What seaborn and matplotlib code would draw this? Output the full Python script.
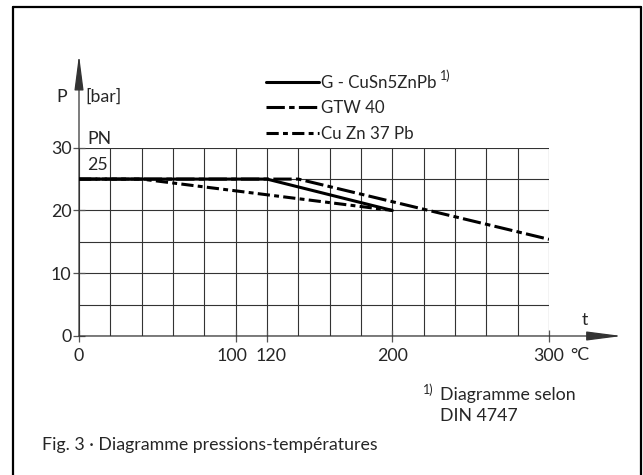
import pandas as pd
import matplotlib
matplotlib.use("Agg")
import matplotlib.pyplot as plt
import matplotlib.transforms as mtransforms
from matplotlib.lines import Line2D
import seaborn as sns

# Pression admissible (bar) en fonction de la température (°C)
temps_cusn = [0, 120, 200]
press_cusn = [25, 25, 20]
temps_gtw = [0, 140, 300]
press_gtw = [25, 25, 15.4]
temps_cuzn = [0, 40, 200]
press_cuzn = [25, 25, 20]

alloys = ["G - CuSn5ZnPb", "GTW 40", "Cu Zn 37 Pb"]
x_ticks = [0, 100, 120, 200, 300]
y_ticks = [0, 10, 20, 30]

sns.set_theme(style="white")
plt.rcParams["font.family"] = ["Lato", "DejaVu Sans"]
FS = 12.8
plt.rcParams["font.size"] = FS

W, H = 643, 475


def fx(px):
    return px / W


def fy(py):
    return 1 - py / H


rows = []
for name, ts, ps in zip(alloys, [temps_cusn, temps_gtw, temps_cuzn],
                        [press_cusn, press_gtw, press_cuzn]):
    for t, p in zip(ts, ps):
        rows.append({"t": t, "p": p, "alliage": name})
df = pd.DataFrame(rows)

fig = plt.figure(figsize=(W / 100, H / 100), dpi=100)
ax = fig.add_axes([fx(79), fy(336), fx(549) - fx(79), fy(147.7) - fy(336)])

# tirets en multiples de l'épaisseur du trait
dashes = {alloys[0]: "", alloys[1]: (6, 1.4, 1.8, 1.4), alloys[2]: (4, 1.4, 1.6, 1.4)}
sns.lineplot(data=df, x="t", y="p", hue="alliage", style="alliage",
             palette=["black"] * 3, dashes=dashes, linewidth=2.2,
             sort=False, ax=ax, zorder=5)

# la courbe pleine par-dessus
for ln in ax.get_lines():
    if ln.get_linestyle() == "-":
        ln.set_zorder(6)

ax.set_xlim(0, 300)
ax.set_ylim(0, 30)
ax.set_xticks(x_ticks)
ax.set_xticklabels([str(v) for v in x_ticks])
ax.set_yticks(y_ticks)
ax.set_xticks(range(0, 301, 20), minor=True)
ax.set_yticks(range(0, 31, 5), minor=True)
ax.grid(True, which="both", color="#333333", linewidth=0.8)
for s in ax.spines.values():
    s.set_visible(False)
ax.tick_params(which="major", direction="inout", length=9, width=0.9,
               color="#555555", labelsize=FS, left=True, bottom=True)
ax.tick_params(axis="x", which="major", pad=4)
ax.tick_params(axis="y", which="major", pad=1)
ax.tick_params(which="minor", length=0)
ax.set_xlabel("")
ax.set_ylabel("")

# écarter un peu 100 et 120
for lab, dx in zip(ax.get_xticklabels(), [0, -4, 4, 0, 0]):
    lab.set_transform(lab.get_transform() +
                      mtransforms.ScaledTranslation(dx / 100, 0, fig.dpi_scale_trans))

# axes fléchés
arrow = dict(arrowstyle="-|>,head_length=1.7,head_width=0.22", color="#333333",
             lw=0.9, shrinkA=0, shrinkB=0)
ax.annotate("", xy=(0, 44.8), xytext=(0, 0), arrowprops=arrow, annotation_clip=False)
ax.annotate("", xy=(346.5, 0), xytext=(0, 0), arrowprops=arrow, annotation_clip=False)

# légende
handles, labels = ax.get_legend_handles_labels()
ax.legend(handles, labels, loc="upper left", bbox_to_anchor=(fx(266), fy(75)),
          bbox_transform=fig.transFigure, frameon=False, fontsize=12.2,
          handlelength=3.1, handletextpad=0.15, labelspacing=0.55,
          borderpad=0, borderaxespad=0)
fig.text(fx(440), fy(76), "1)", fontsize=9, va="center", ha="left")

# textes autour des axes
fig.text(fx(62), fy(97), "P", ha="center", va="center", fontsize=FS)
fig.text(fx(85), fy(97), "[bar]", ha="left", va="center", fontsize=FS)
fig.text(fx(87), fy(139), "PN", ha="left", va="center", fontsize=FS)
fig.text(fx(87), fy(165), "25", ha="left", va="center", fontsize=FS)
fig.text(fx(585), fy(320), "t", ha="center", va="center", fontsize=FS)
fig.text(fx(570), fy(355), "°C", ha="left", va="center", fontsize=FS)

# note et légende de figure
fig.text(fx(423), fy(390), "1)", ha="left", va="center", fontsize=9)
fig.text(fx(440), fy(395), "Diagramme selon", ha="left", va="center", fontsize=FS)
fig.text(fx(440), fy(416), "DIN 4747", ha="left", va="center", fontsize=FS)
fig.text(fx(42), fy(445), "Fig. 3 · Diagramme pressions-températures",
         ha="left", va="center", fontsize=FS)

# cadre
frame = dict(color="black", linewidth=1.6, transform=fig.transFigure)
fig.add_artist(Line2D([fx(13), fx(13)], [0, fy(7)], **frame))
fig.add_artist(Line2D([fx(13), fx(641)], [fy(7), fy(7)], **frame))
fig.add_artist(Line2D([fx(641), fx(641)], [fy(7), 0], **frame))

fig.savefig("out.png", dpi=100)
